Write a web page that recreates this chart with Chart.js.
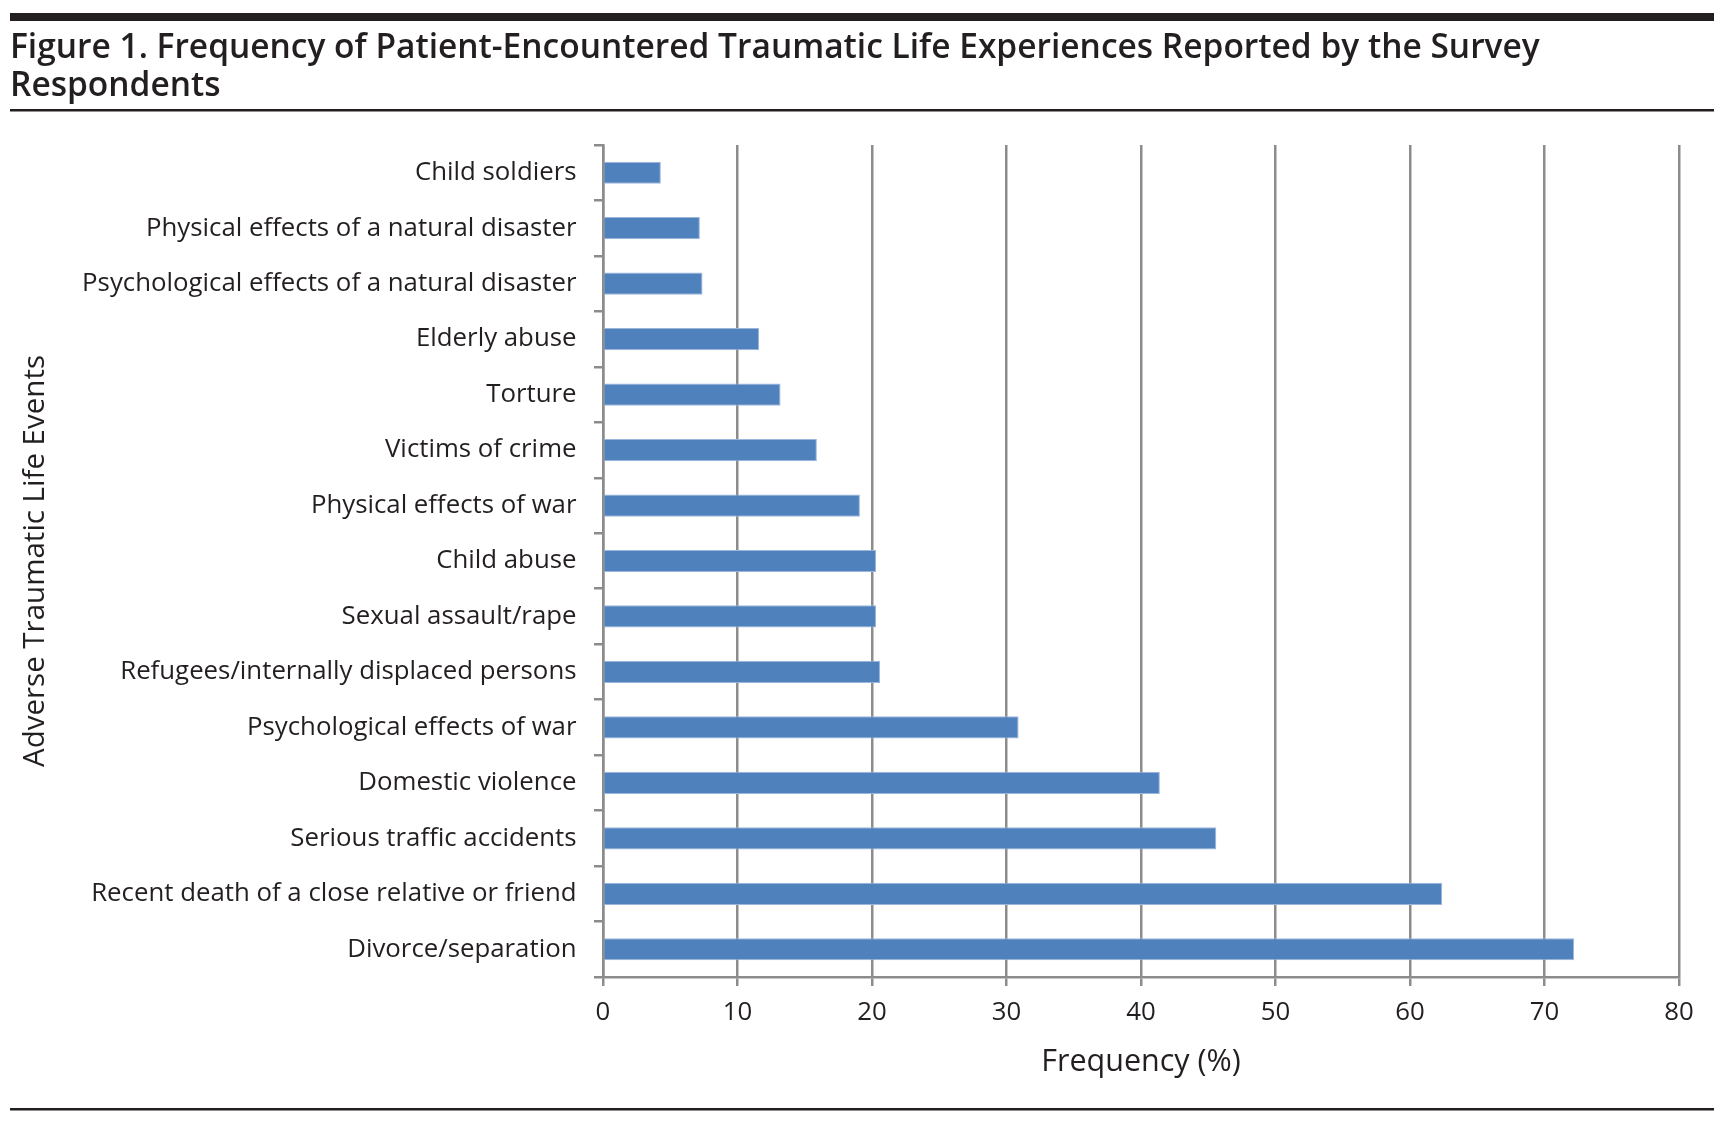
<!DOCTYPE html>
<html>
<head>
<meta charset="utf-8">
<title>Figure 1</title>
<script src="https://cdn.jsdelivr.net/npm/chart.js@4.4.1/dist/chart.umd.min.js"></script>
<style>
  html, body { margin: 0; padding: 0; background: #fff; }
  #wrap { width: 1730px; height: 1121px; position: relative; }
</style>
</head>
<body>
<div id="wrap"><canvas id="chart"></canvas></div>
<script>
// categories, top to bottom as in the figure
const events = [
  "Child soldiers",
  "Physical effects of a natural disaster",
  "Psychological effects of a natural disaster",
  "Elderly abuse",
  "Torture",
  "Victims of crime",
  "Physical effects of war",
  "Child abuse",
  "Sexual assault/rape",
  "Refugees/internally displaced persons",
  "Psychological effects of war",
  "Domestic violence",
  "Serious traffic accidents",
  "Recent death of a close relative or friend",
  "Divorce/separation"
];
const frequency = [4.3, 7.2, 7.4, 11.6, 13.2, 15.9, 19.1, 20.3, 20.3, 20.6, 30.9, 41.4, 45.6, 62.4, 72.2];
const xTicks = [0, 10, 20, 30, 40, 50, 60, 70, 80];

const titleLines = [
  "Figure 1. Frequency of Patient-Encountered Traumatic Life Experiences Reported by the Survey",
  "Respondents"
];

const ink = "#231f20";
const gridGrey = "#8c8c8c";
const FONT = "'Open Sans', 'Noto Sans', sans-serif";

// horizontal rules of the figure frame
const rules = {
  id: "rules",
  afterDraw(chart) {
    const ctx = chart.ctx;
    ctx.save();
    ctx.fillStyle = ink;
    ctx.fillRect(10, 13, 1704, 8);
    ctx.fillRect(10, 109, 1704, 2.5);
    ctx.fillRect(10, 1108, 1704, 2.5);
    ctx.restore();
  }
};

new Chart(document.getElementById("chart"), {
  type: "bar",
  data: {
    labels: events,
    datasets: [{
      data: frequency,
      backgroundColor: "#4f81bd",
      borderColor: "#9ab6db",
      borderWidth: 1,
      borderSkipped: "start",
      barPercentage: 0.4,
      categoryPercentage: 1.0
    }]
  },
  options: {
    indexAxis: "y",
    responsive: true,
    maintainAspectRatio: false,
    animation: false,
    layout: { padding: { left: 10, right: 51, top: 0, bottom: 0 } },
    plugins: {
      legend: { display: false },
      tooltip: { enabled: false },
      title: {
        display: true,
        text: titleLines,
        align: "start",
        color: ink,
        font: { family: FONT, size: 33.5, weight: "600", lineHeight: "38.5px" },
        padding: { top: 29, bottom: 39 }
      }
    },
    scales: {
      x: {
        min: 0,
        max: 80,
        afterBuildTicks: (s) => { s.ticks = xTicks.map(v => ({ value: v })); },
        afterFit: (s) => { s.height = 144; s.paddingLeft = 0; s.paddingRight = 0; },
        grid: {
          color: gridGrey,
          lineWidth: 2.5,
          tickLength: 9,
          drawOnChartArea: true
        },
        border: { display: true, color: gridGrey, width: 2.5 },
        ticks: {
          color: ink,
          padding: 11,
          font: { family: FONT, size: 25.8 }
        },
        title: {
          display: true,
          text: "Frequency (%)",
          color: ink,
          font: { family: FONT, size: 30.5 },
          padding: { top: 0, bottom: 40 }
        }
      },
      y: {
        afterFit: (s) => { s.width = 593; },
        grid: {
          color: gridGrey,
          lineWidth: 2.5,
          tickLength: 9,
          drawOnChartArea: false,
          offset: true
        },
        border: { display: true, color: gridGrey, width: 2.5 },
        ticks: {
          color: ink,
          padding: 17.5,
          autoSkip: false,
          font: { family: FONT, size: 25.8 }
        },
        title: {
          display: true,
          text: "Adverse Traumatic Life Events",
          color: ink,
          font: { family: FONT, size: 29.5 },
          padding: { top: 8, bottom: 0 }
        }
      }
    }
  },
  plugins: [rules]
});
</script>
</body>
</html>
